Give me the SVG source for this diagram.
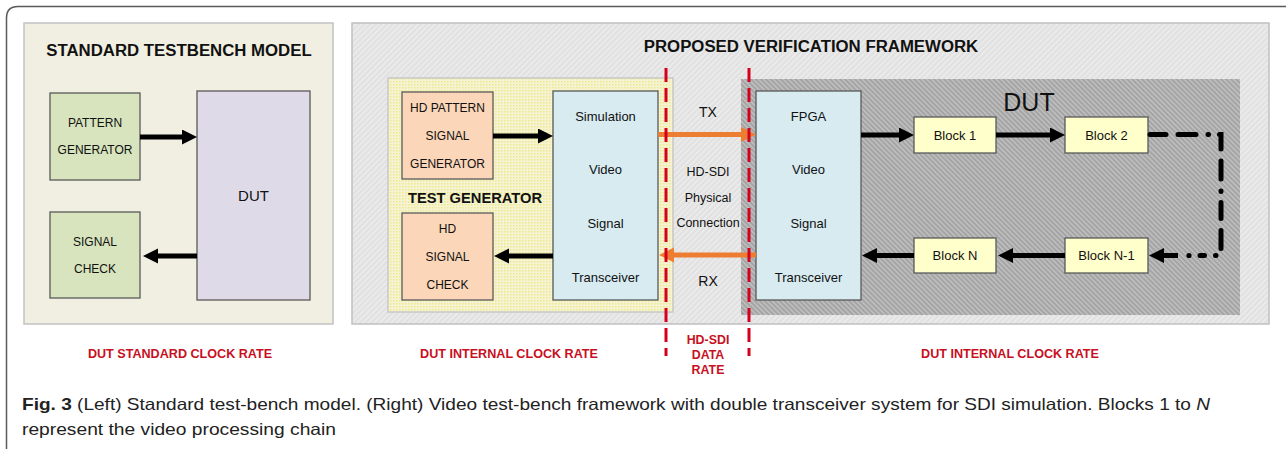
<svg xmlns="http://www.w3.org/2000/svg" width="1286" height="449" viewBox="0 0 1286 449">
<style>
text{font-family:"Liberation Sans",Arial,sans-serif;fill:#111}
.box{stroke:#595959;stroke-width:1.3}
.green{fill:#d7e4bd}
.lav{fill:#dfdae8}
.peach{fill:#fbd6b8}
.blue{fill:#d7ebf1}
.blk{fill:#ffffcc}
.t13{font-size:13px;text-anchor:middle}
.t12{font-size:12px;text-anchor:middle}
.title{font-size:16.8px;font-weight:bold;text-anchor:middle}
.red{font-size:12.6px;font-weight:bold;fill:#c8101e;text-anchor:middle}
.arr{stroke:#000;stroke-width:5;fill:none}
.org{stroke:#ed7d31;stroke-width:5;fill:none}
.sep{stroke:#d6001c;stroke-width:3;stroke-dasharray:14 6;fill:none}
.cap{font-size:16.5px;fill:#222}
</style>
<defs>
<pattern id="hatchLight" width="4" height="4" patternUnits="userSpaceOnUse" patternTransform="rotate(45)">
<rect width="4" height="4" fill="#e1e1e1"/>
<rect width="1.5" height="4" fill="#ededed"/>
</pattern>
<pattern id="hatchDark" width="3.5" height="3.5" patternUnits="userSpaceOnUse" patternTransform="rotate(-45)">
<rect width="3.5" height="3.5" fill="#a4a4a4"/>
<rect width="1.4" height="3.5" fill="#c2c2c2"/>
</pattern>
<pattern id="dotsYellow" width="3" height="3" patternUnits="userSpaceOnUse">
<rect width="3" height="3" fill="#f5f3d4"/>
<rect width="1.5" height="1.5" fill="#eeea8c"/>
</pattern>
<marker id="ah" markerUnits="userSpaceOnUse" markerWidth="16" markerHeight="16" refX="5" refY="7.5" orient="auto">
<path d="M0,0 L15,7.5 L0,15 Z" fill="#000"/>
</marker>
<marker id="ahO" markerUnits="userSpaceOnUse" markerWidth="16" markerHeight="16" refX="5" refY="7.5" orient="auto">
<path d="M0,0 L15,7.5 L0,15 Z" fill="#ed7d31"/>
</marker>
</defs>

<rect width="1286" height="449" fill="#fff"/>
<path d="M6.5,449 V18 Q6.5,6.5 18,6.5 H1286" fill="none" stroke="#5a5a5a" stroke-width="1.5"/>

<!-- Left panel -->
<g id="standard-panel">
<rect x="24" y="23" width="309" height="301" fill="#f1efe2" stroke="#c2c2c2" stroke-width="1.5"/>
<text class="title" x="179" y="56">STANDARD TESTBENCH MODEL</text>
</g>

<!-- Right panel -->
<g id="proposed-panel">
<rect x="352" y="23" width="917" height="301" fill="url(#hatchLight)" stroke="#c0c0c0" stroke-width="1.5"/>
<text class="title" x="811" y="51.5">PROPOSED VERIFICATION FRAMEWORK</text>
</g>
<g id="test-generator">
<rect x="388" y="78" width="285" height="234" fill="url(#dotsYellow)" stroke="#c8c8c8" stroke-width="1.5"/>
<text x="475" y="203" style="font-size:14.7px;font-weight:bold;text-anchor:middle">TEST GENERATOR</text>
</g>
<g id="dut-area">
<rect x="741" y="79" width="499" height="236" fill="url(#hatchDark)"/>
<text x="1029" y="111" style="font-size:25px;text-anchor:middle">DUT</text>
</g>

<g id="pattern-generator">
<rect class="box green" x="50" y="93" width="90" height="87"/>
<text class="t12" x="95" y="127.3">PATTERN</text>
<text class="t12" x="95" y="154.3">GENERATOR</text>
</g>
<g id="signal-check">
<rect class="box green" x="50" y="212" width="90" height="86"/>
<text class="t12" x="95" y="246.3">SIGNAL</text>
<text class="t12" x="95" y="273.3">CHECK</text>
</g>
<g id="dut-standard">
<rect class="box lav" x="197" y="91" width="113" height="209"/>
<text x="253.5" y="200.5" style="font-size:15px;text-anchor:middle">DUT</text>
</g>

<g id="hd-pattern-generator">
<rect class="box peach" x="402" y="92" width="91" height="87"/>
<text class="t12" x="447.5" y="112.3">HD PATTERN</text>
<text class="t12" x="447.5" y="140.3">SIGNAL</text>
<text class="t12" x="447.5" y="168.3">GENERATOR</text>
</g>
<g id="hd-signal-check">
<rect class="box peach" x="402" y="213" width="91" height="87"/>
<text class="t12" x="447.5" y="233.3">HD</text>
<text class="t12" x="447.5" y="261.3">SIGNAL</text>
<text class="t12" x="447.5" y="289.3">CHECK</text>
</g>
<g id="simulation-transceiver">
<rect class="box blue" x="553" y="91" width="105" height="209"/>
<text class="t13" x="605.5" y="120.5">Simulation</text>
<text class="t13" x="605.5" y="173.5">Video</text>
<text class="t13" x="605.5" y="227.5">Signal</text>
<text class="t13" x="605.5" y="281.5">Transceiver</text>
</g>
<g id="fpga-transceiver">
<rect class="box blue" x="756" y="91" width="105" height="209"/>
<text class="t13" x="808.5" y="120.5">FPGA</text>
<text class="t13" x="808.5" y="173.5">Video</text>
<text class="t13" x="808.5" y="227.5">Signal</text>
<text class="t13" x="808.5" y="281.5">Transceiver</text>
</g>
<g id="block-1">
<rect class="box blk" x="914" y="117" width="82" height="36"/>
<text class="t13" x="955" y="139.5">Block 1</text>
</g>
<g id="block-2">
<rect class="box blk" x="1065" y="117" width="83" height="36"/>
<text class="t13" x="1106.5" y="139.5">Block 2</text>
</g>
<g id="block-n">
<rect class="box blk" x="914" y="238" width="82" height="35"/>
<text class="t13" x="955" y="260">Block N</text>
</g>
<g id="block-n-1">
<rect class="box blk" x="1065" y="238" width="83" height="35"/>
<text class="t13" x="1106.5" y="260">Block N-1</text>
</g>

<g id="connectors">
<line class="arr" x1="140" y1="137" x2="187" y2="137" marker-end="url(#ah)"/>
<line class="arr" x1="197" y1="256" x2="153" y2="256" marker-end="url(#ah)"/>
<line class="arr" x1="493" y1="136" x2="543" y2="136" marker-end="url(#ah)"/>
<line class="arr" x1="553" y1="256" x2="504" y2="256" marker-end="url(#ah)"/>
<line class="arr" x1="861" y1="135" x2="904" y2="135" marker-end="url(#ah)"/>
<line class="arr" x1="996" y1="135" x2="1055" y2="135" marker-end="url(#ah)"/>
<line class="arr" x1="1065" y1="255.5" x2="1008" y2="255.5" marker-end="url(#ah)"/>
<line class="arr" x1="914" y1="255.5" x2="872" y2="255.5" marker-end="url(#ah)"/>
<path d="M1150,134.5 H1221 V255.5 H1200" fill="none" stroke="#000" stroke-width="5" stroke-linecap="round" stroke-dasharray="16 12 18 12 0.5 11"/>
<circle cx="1189" cy="255.5" r="2.6" fill="#000"/>
<line class="arr" x1="1178" y1="255.5" x2="1159" y2="255.5" marker-end="url(#ah)"/>
<line class="org" x1="658" y1="134.5" x2="746" y2="134.5" marker-end="url(#ahO)"/>
<line class="org" x1="756" y1="255" x2="669" y2="255" marker-end="url(#ahO)"/>
</g>

<g id="rate-boundaries">
<line class="sep" x1="666" y1="68" x2="666" y2="356"/>
<line class="sep" x1="749" y1="68" x2="749" y2="356"/>
</g>

<g id="link-labels">
<text x="708" y="117" style="font-size:14px;text-anchor:middle">TX</text>
<text x="708" y="175.5" style="font-size:12.5px;text-anchor:middle">HD-SDI</text>
<text x="708" y="201.5" style="font-size:12.5px;text-anchor:middle">Physical</text>
<text x="708" y="226.5" style="font-size:12.5px;text-anchor:middle">Connection</text>
<text x="708" y="286" style="font-size:14px;text-anchor:middle">RX</text>
</g>

<g id="rate-labels">
<text class="red" x="180" y="358">DUT STANDARD CLOCK RATE</text>
<text class="red" x="509" y="358">DUT INTERNAL CLOCK RATE</text>
<text class="red" x="1010" y="358">DUT INTERNAL CLOCK RATE</text>
<text class="red" x="708" y="344" style="font-size:12.4px">HD-SDI</text>
<text class="red" x="708" y="359" style="font-size:12.4px">DATA</text>
<text class="red" x="708" y="374" style="font-size:12.4px">RATE</text>
</g>

<g id="caption">
<text class="cap" x="22" y="410" textLength="1188" lengthAdjust="spacingAndGlyphs"><tspan font-weight="bold">Fig. 3</tspan> (Left) Standard test-bench model. (Right) Video test-bench framework with double transceiver system for SDI simulation. Blocks 1 to <tspan font-style="italic">N</tspan></text>
<text class="cap" x="22" y="435" textLength="314" lengthAdjust="spacingAndGlyphs">represent the video processing chain</text>
</g>
</svg>
